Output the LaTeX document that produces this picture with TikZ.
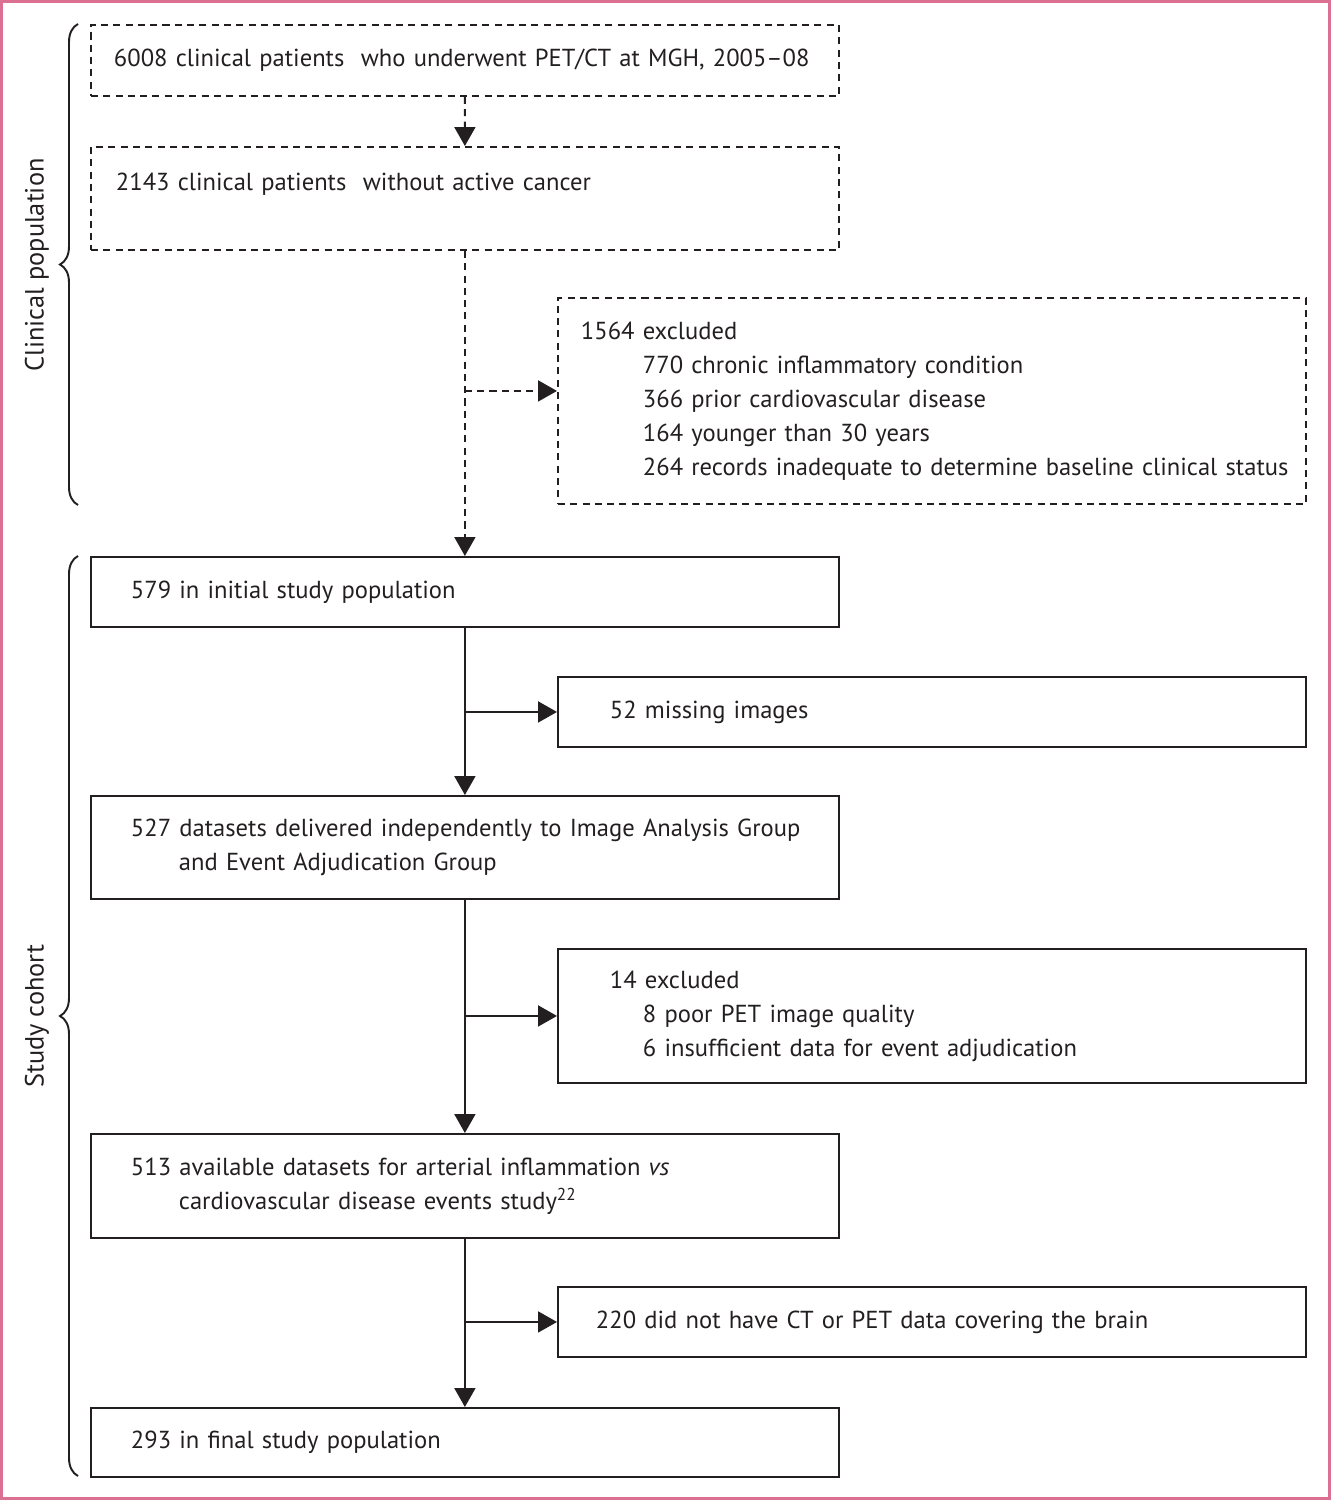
\documentclass[tikz,border=0pt]{standalone}
\usepackage{fontspec}
\setmainfont{PT Sans}
\usetikzlibrary{arrows.meta,decorations.pathreplacing}
\definecolor{framepink}{RGB}{219,112,147}
\definecolor{ink}{RGB}{35,31,32}

\begin{document}
\begin{tikzpicture}[x=0.02cm, y=-0.02cm, color=ink,
    font=\fontsize{14}{19.4}\selectfont,
    box/.style={draw, line width=1.1pt, anchor=north west, align=left, inner ysep=0pt},
    dbox/.style={box, dash pattern=on 4pt off 3pt},
    flow/.style={line width=1.1pt, -{Triangle[length=0.38cm, width=0.42cm]}},
    dflow/.style={flow, dash pattern=on 4pt off 3pt},
    grp/.style={decorate, decoration={brace, amplitude=0.36cm}, line width=1.1pt},
    grplabel/.style={rotate=90, font=\fontsize{15}{18}\selectfont}]

    \useasboundingbox (0,0) rectangle (1331,1500);

    % Frame
    \draw[framepink, line width=0.06cm] (1.5,1.5) rectangle (1329.5,1498.5);

    % Clinical population
    \node[dbox, inner xsep=0.46cm, text width=14.04cm, minimum height=1.42cm] (all) at (90,24)
        {\mbox{6008 clinical patients~ who underwent PET/CT at MGH, 2005–08}};
    \node[dbox, inner xsep=0.5cm, text width=13.96cm, minimum height=2.06cm] (nocancer) at (90,146)
        {2143 clinical patients~ without active cancer\\\mbox{}};
    \node[dbox, inner xsep=0.46cm, text width=14.04cm, minimum height=4.12cm] (excl) at (557,297)
        {1564 excluded\\
         \hspace*{1.24cm}770 chronic inflammatory condition\\
         \hspace*{1.24cm}366 prior cardiovascular disease\\
         \hspace*{1.24cm}164 younger than 30 years\\
         \hspace*{1.24cm}\mbox{264 records inadequate to determine baseline clinical status}};

    % Study cohort
    \node[box, inner xsep=0.8cm, text width=13.36cm, minimum height=1.4cm] (initial) at (90,556)
        {579 in initial study population};
    \node[box, inner xsep=1.04cm, text width=12.88cm, minimum height=1.4cm] (missing) at (557,676)
        {52 missing images};
    \node[box, inner xsep=0.8cm, text width=13.36cm, minimum height=2.06cm] (delivered) at (90,795)
        {\mbox{527 datasets delivered independently to Image Analysis Group}\\
         \hspace*{0.96cm}and Event Adjudication Group};
    \node[box, inner xsep=1.04cm, text width=12.88cm, minimum height=2.68cm] (quality) at (557,948)
        {14 excluded\\
         \hspace*{0.66cm}8 poor PET image quality\\
         \hspace*{0.66cm}6 insufficient data for event adjudication};
    \node[box, inner xsep=0.8cm, text width=13.36cm, minimum height=2.08cm] (available) at (90,1133)
        {513 available datasets for arterial inflammation \textit{vs}\\
         \hspace*{0.96cm}cardiovascular disease events study\textsuperscript{22}};
    \node[box, inner xsep=0.76cm, text width=13.44cm, minimum height=1.4cm] (brain) at (557,1286)
        {220 did not have CT or PET data covering the brain};
    \node[box, inner xsep=0.8cm, text width=13.36cm, minimum height=1.38cm] (final) at (90,1407)
        {293 in final study population};

    % Connectors
    \coordinate (split) at ([yshift=0.2cm]excl.west);
    \draw[dflow] (all.south) -- (nocancer.north);
    \draw[dflow] (nocancer.south) -- (initial.north);
    \draw[dflow] (nocancer.south |- split) -- (split);
    \draw[flow] (initial.south) -- (delivered.north);
    \draw[flow] (initial.south |- missing.west) -- (missing.west);
    \draw[flow] (delivered.south) -- (available.north);
    \draw[flow] (delivered.south |- quality.west) -- (quality.west);
    \draw[flow] (available.south) -- (final.north);
    \draw[flow] (available.south |- brain.west) -- (brain.west);

    % Braces
    \draw[grp] (78,505) -- (78,24);
    \node[grplabel] (clinical) at (37,265) {Clinical population};
    \draw[grp] (78,1476) -- (78,556);
    \node[grplabel] (cohort) at (37,1016) {Study cohort};

\end{tikzpicture}
\end{document}
